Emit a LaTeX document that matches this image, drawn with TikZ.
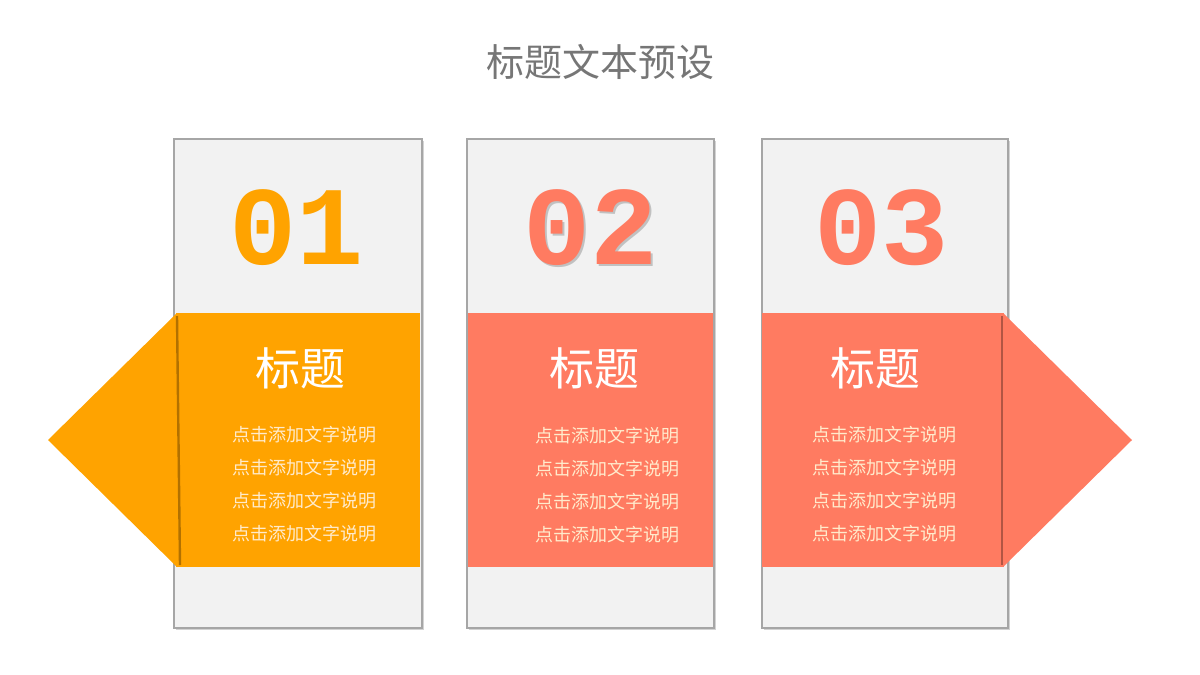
\documentclass[tikz,border=0pt]{standalone}
\usepackage{fontspec}
\newfontfamily\cjk{Noto Sans CJK SC}
\newfontfamily\digits{Liberation Mono}
\usetikzlibrary{shadows}
\definecolor{cardgray}{HTML}{F2F2F2}
\definecolor{cardedge}{HTML}{A6A6A6}
\definecolor{orangeband}{HTML}{FFA300}
\definecolor{salmonband}{HTML}{FF7B61}
\definecolor{titlegray}{HTML}{767676}
\definecolor{notecream}{HTML}{FFEBCC}
\tikzset{
  card/.style={fill=cardgray, draw=cardedge, line width=1pt,
    drop shadow={shadow xshift=0.8pt, shadow yshift=-0.8pt, opacity=0.35}},
  num/.style={font=\digits\bfseries\fontsize{56}{56}\selectfont},
  head/.style={text=white, font=\cjk\fontsize{22.5}{22.5}\selectfont},
  note/.style={text=notecream, align=center, font=\cjk\fontsize{9}{16.5}\selectfont},
  fold/.style={draw=black, opacity=0.3, line width=1.2pt}
}
\begin{document}
\begin{tikzpicture}[x=0.5pt, y=-0.5pt]
  \useasboundingbox (0,0) rectangle (1200,675);
  \node[text=titlegray, font=\cjk\fontsize{19}{19}\selectfont] (title) at (600,62) {标题文本预设};

  \path[card] (174,139) rectangle (422,628);
  \path[card] (467,139) rectangle (714,628);
  \path[card] (762,139) rectangle (1008,628);

  \fill[orangeband] (177,313) -- (48,440) -- (177,567) -- cycle;
  \fill[orangeband] (176,313) rectangle (420,567);
  \draw[fold] (177,316) -- (180,565);
  \fill[salmonband] (468,313) rectangle (713,567);
  \fill[salmonband] (1003,313) -- (1132,440) -- (1003,567) -- cycle;
  \fill[salmonband] (762,313) rectangle (1004,567);
  \draw[fold] (1002,316) -- (1002,565);

  \node[num, text=orangeband] (num1) at (297,228) {01};
  \node[num, text=black, opacity=0.2] (num2s) at (593,230) {02};
  \node[num, text=salmonband] (num2) at (591,228) {02};
  \node[num, text=salmonband] (num3) at (882,228) {03};

  \node[head] (head1) at (300,368) {标题};
  \node[head] (head2) at (594,368) {标题};
  \node[head] (head3) at (875,368) {标题};

  \node[note] (note1) at (304,484) {点击添加文字说明\\点击添加文字说明\\点击添加文字说明\\点击添加文字说明};
  \node[note] (note2) at (607,485) {点击添加文字说明\\点击添加文字说明\\点击添加文字说明\\点击添加文字说明};
  \node[note] (note3) at (884,484) {点击添加文字说明\\点击添加文字说明\\点击添加文字说明\\点击添加文字说明};
\end{tikzpicture}
\end{document}
